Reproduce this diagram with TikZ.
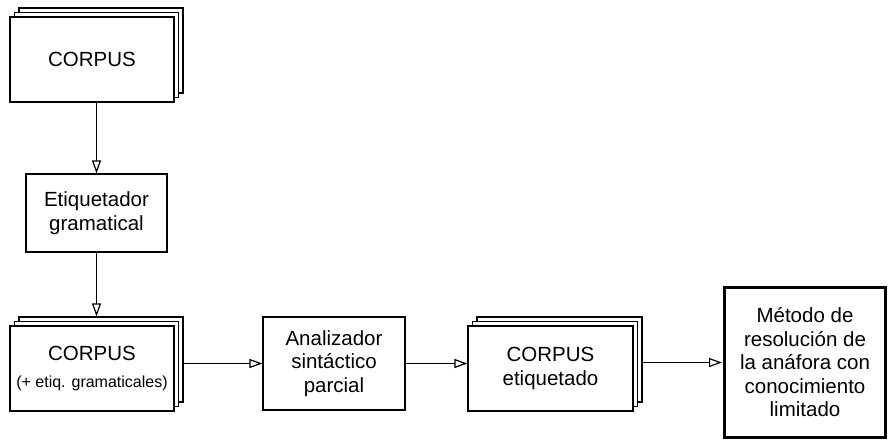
\documentclass[tikz,border=0pt]{standalone}
\usepackage{fontspec}
\setmainfont{Liberation Sans}
\usetikzlibrary{arrows.meta,shadows}
\begin{document}
\begin{tikzpicture}[x=1pt,y=-1pt,
  box/.style={draw,line width=1.2pt,fill=white,inner sep=0pt,align=center,
    font=\fontsize{20.5}{23.5}\selectfont},
  docs/.style={box,
    copy shadow={shadow xshift=9pt,shadow yshift=9pt,line width=1.2pt},
    copy shadow={shadow xshift=4.5pt,shadow yshift=4.5pt,line width=1.2pt}},
  arr/.style={line width=1.2pt,-{Triangle[open,length=13pt,width=9pt,fill=white]}}]
\useasboundingbox (0,0) rectangle (888,443);
\node[docs,minimum width=164pt,minimum height=85pt] (c1) at (92,59.5) {CORPUS};
\node[box,minimum width=141pt,minimum height=78pt] (et) at (96.5,213) {Etiquetador\\gramatical};
\node[docs,minimum width=164pt,minimum height=85pt] (c2) at (92,368.5)
  {CORPUS\\[3pt]{\fontsize{16}{19}\selectfont(+ etiq. gramaticales)}};
\node[box,minimum width=142pt,minimum height=93pt] (an) at (334,363.5) {Analizador\\sintáctico\\parcial};
\node[docs,minimum width=165pt,minimum height=85pt] (c3) at (550.5,368.5) {CORPUS\\etiquetado};
\node[box,line width=3pt,minimum width=161pt,minimum height=150pt] (me) at (805,362.5)
  {Método de\\resolución de\\la anáfora con\\conocimiento\\limitado};
\coordinate (c2b) at ([xshift=9pt,yshift=9pt]c2.north east);
\coordinate (c3b) at ([xshift=9pt,yshift=9pt]c3.north east);
\draw[arr] (et.north |- c1.south) -- (et.north);
\draw[arr] (et.south) -- (et.south |- c2b);
\draw[arr] (c2b |- an.west) -- (an.west);
\draw[arr] (an.east) -- (c3.west |- an.east);
\draw[arr] (c3b |- me.west) -- ([xshift=-1pt]me.west);
\end{tikzpicture}
\end{document}
